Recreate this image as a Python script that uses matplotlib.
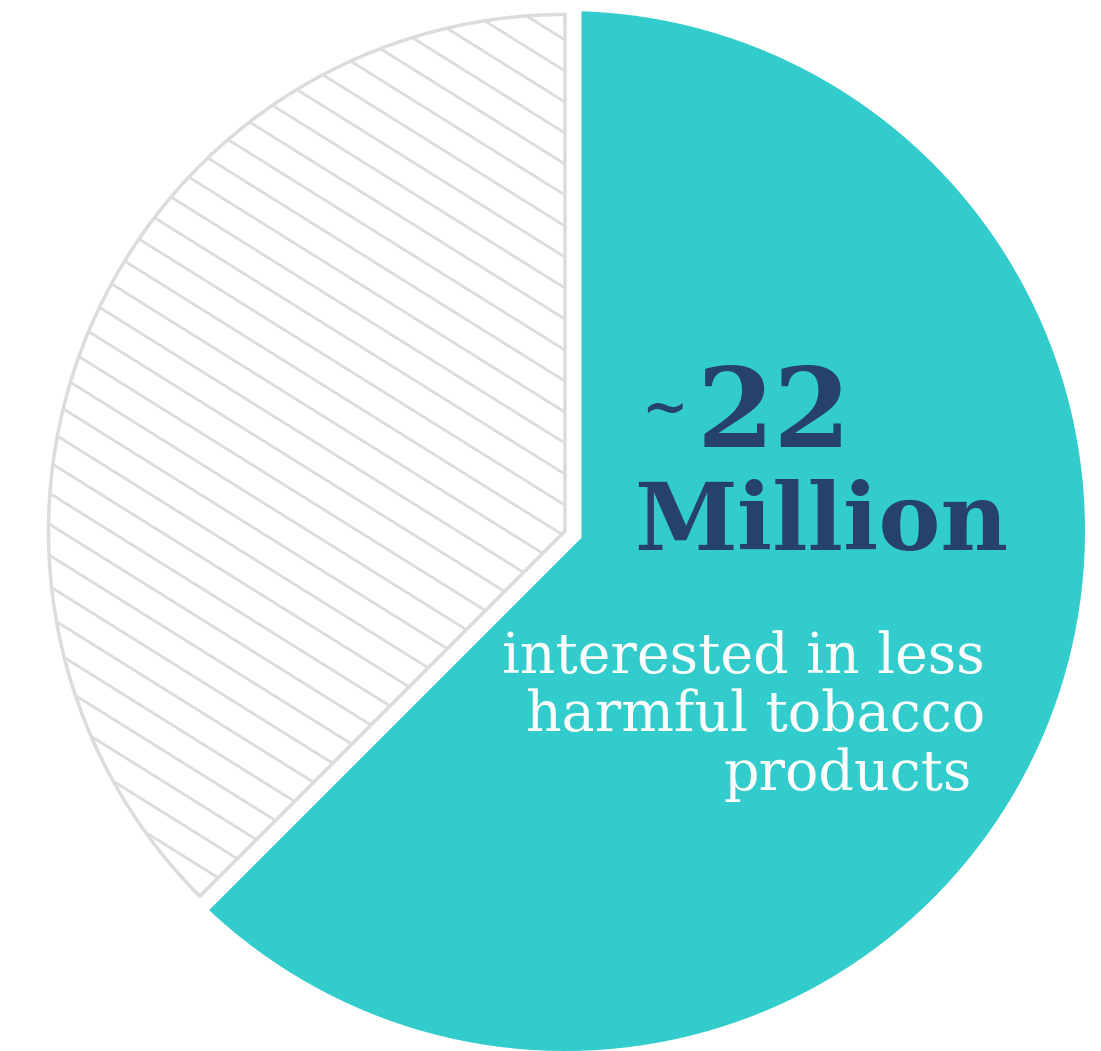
import matplotlib.pyplot as plt
import numpy as np

# audience split, in millions of adults
segments = ['interested', 'not interested']
millions = [22, 13.2]
unit_label = 'Million'
caption_lines = ['interested in less', 'harmful tobacco', 'products']
caption_right = [985, 985, 972]

TEAL = '#33cccc'
NAVY = '#26426a'
GREY = '#dcdcdc'

W, H = 1101, 1051
PT = 72 / 100  # points per pixel at dpi 100

fig = plt.figure(figsize=(W / 100, H / 100), dpi=100)
ax = fig.add_axes([0, 0, 1, 1])

cx, cy, r = 565, 520, 520
gap = 16.5

# teal slice, pulled in from the straight edges by a thick white stroke
teal, _ = ax.pie(millions, startangle=90, counterclock=False,
                 colors=[TEAL, 'none'], radius=r + gap, center=(cx, cy),
                 wedgeprops=dict(edgecolor='white', linewidth=2 * gap * PT,
                                 joinstyle='miter'))
teal[1].set_visible(False)

# remaining slice: white with a grey outline
rest, _ = ax.pie(millions, startangle=90, counterclock=False,
                 colors=['none', 'white'], radius=r - 3.5, center=(cx, cy),
                 wedgeprops=dict(edgecolor=GREY, linewidth=3.5 * PT))
rest[0].set_visible(False)
hatched = rest[1]

# diagonal stripes clipped to the remaining slice
ang = np.deg2rad(32)
d = np.array([np.cos(ang), -np.sin(ang)])
n = np.array([np.sin(ang), np.cos(ang)])
spacing = 26.3
c0 = n @ [193, H - 893]
mid = n @ [cx, cy]
along = d @ [cx, cy]
for k in np.arange(np.floor((mid - r - c0) / spacing), np.ceil((mid + r - c0) / spacing) + 1):
    p = n * (c0 + k * spacing) + d * along
    seg = np.array([p - d * r * 1.3, p + d * r * 1.3])
    line, = ax.plot(seg[:, 0], seg[:, 1], color=GREY, lw=2.8 * PT,
                    solid_capstyle='butt')
    line.set_clip_path(hatched)

serif = 'DejaVu Serif'
ax.text(641, H - 410, '~', color=NAVY, fontsize=40, fontweight='bold',
        family=serif, ha='left', va='center')
ax.text(697, H - 447, f'{millions[0]:g}', color=NAVY, fontsize=80,
        fontweight='bold', family=serif, ha='left', va='baseline')
ax.text(634, H - 550, unit_label, color=NAVY, fontsize=67,
        fontweight='bold', family=serif, ha='left', va='baseline')

for i, (txt, xr) in enumerate(zip(caption_lines, caption_right)):
    ax.text(xr, H - 673 - i * 58.5, txt, color='white', fontsize=40,
            family=serif, ha='right', va='baseline')

ax.set_xlim(0, W)
ax.set_ylim(0, H)
ax.set_aspect('equal')
ax.axis('off')

fig.savefig('out.png', dpi=100, facecolor='white')
